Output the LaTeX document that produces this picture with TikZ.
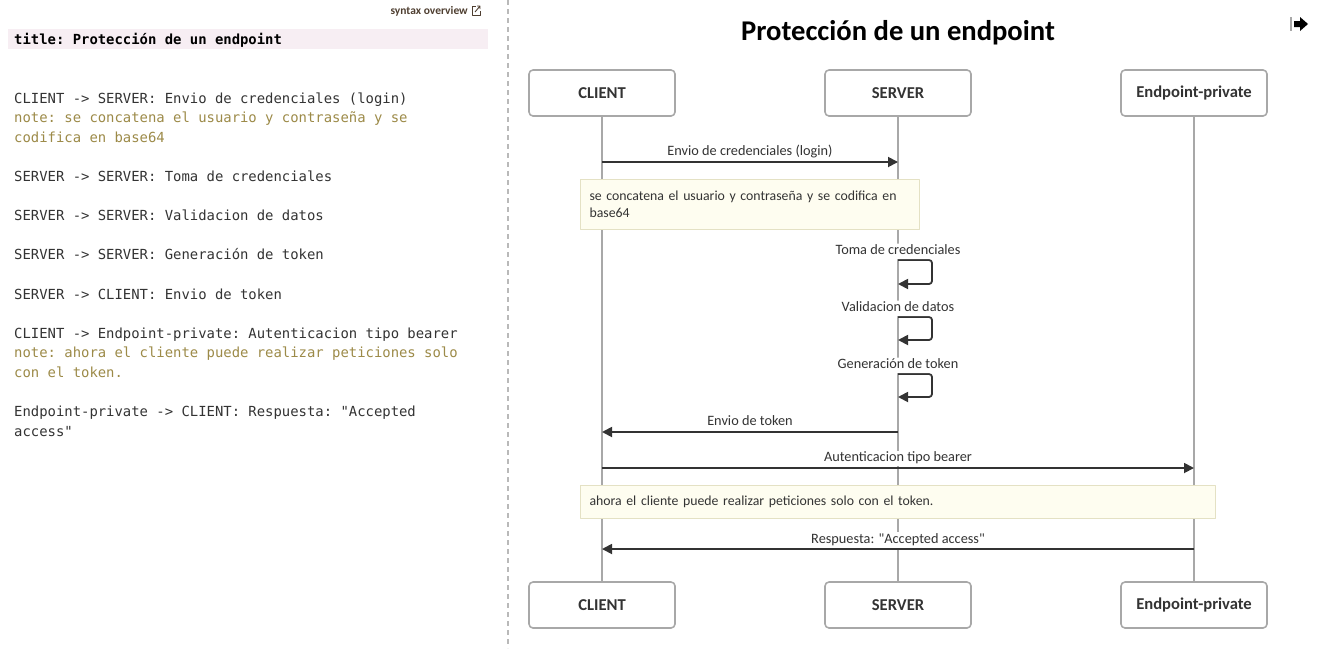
\documentclass[tikz,border=0pt]{standalone}
\usepackage{fontspec}
\setmainfont{Carlito}[Ligatures=TeXOff]
\setmonofont{DejaVu Sans Mono}
\usetikzlibrary{arrows.meta}
\definecolor{linea}{HTML}{333333}
\definecolor{gris}{HTML}{A8A8A8}
\definecolor{notafondo}{HTML}{FEFDF0}
\definecolor{notaborde}{HTML}{E4E1C4}
\definecolor{notacod}{HTML}{9C8A48}
\definecolor{titulofondo}{HTML}{F7EEF3}
\definecolor{enlace}{HTML}{4E3E30}
\begin{document}
\begin{tikzpicture}[x=1pt,y=-1pt,>={Triangle[length=10pt,width=10pt]}, line join=round,
  actor/.style={draw=gris,line width=1.6pt,rounded corners=4pt,minimum width=146pt,minimum height=46pt,
    font=\fontsize{16.6}{18}\selectfont\bfseries,text=linea},
  vida/.style={draw=gris,line width=1.6pt},
  msg/.style={draw=linea,line width=1.8pt,->},
  etiq/.style={fill=white,inner sep=1pt,text height=10pt,text depth=3.5pt,font=\fontsize{14.3}{16}\selectfont,text=linea},
  nota/.style={draw=notaborde,fill=notafondo,line width=1pt,anchor=north west,align=left,
    inner xsep=9pt,inner ysep=0pt,font=\fontsize{13.8}{17}\selectfont,text=linea},
  cod/.style={anchor=base west,inner sep=0pt,font=\fontsize{13.9}{17}\ttfamily,text=linea},
  codnota/.style={cod,text=notacod}]
  \useasboundingbox (0,0) rectangle (1327,648);
  % panel del codigo
  \node[anchor=base east,inner sep=0pt,font=\fontsize{11.5}{13}\selectfont\bfseries,text=enlace] (sint) at (468,14) {syntax overview};
  \draw[enlace,line width=0.9pt] (476,6) -- (472,6) -- (472,15) -- (480,15) -- (480,11);
  \draw[enlace,line width=0.9pt] (475,12) -- (480,6) (477,6) -- (480,6) -- (480,9);
  \fill[titulofondo] (8,29) rectangle (488,49);
  \node[cod,font=\fontsize{13.9}{17}\ttfamily\bfseries,text=black] (t0) at (14,44) {title: Protección de un endpoint};
  \node[cod] (c1) at (14,103) {CLIENT -> SERVER: Envio de credenciales (login)};
  \node[codnota] (c2) at (14,122) {note: se concatena el usuario y contraseña y se};
  \node[codnota] (c3) at (14,142) {codifica en base64};
  \node[cod] (c4) at (14,181) {SERVER -> SERVER: Toma de credenciales};
  \node[cod] (c5) at (14,220) {SERVER -> SERVER: Validacion de datos};
  \node[cod] (c6) at (14,259) {SERVER -> SERVER: Generación de token};
  \node[cod] (c7) at (14,299) {SERVER -> CLIENT: Envio de token};
  \node[cod] (c8) at (14,338) {CLIENT -> Endpoint-private: Autenticacion tipo bearer};
  \node[codnota] (c9) at (14,357) {note: ahora el cliente puede realizar peticiones solo};
  \node[codnota] (c10) at (14,377) {con el token.};
  \node[cod] (c11) at (14,416) {Endpoint-private -> CLIENT: Respuesta: "Accepted};
  \node[cod] (c12) at (14,436) {access"};
  \draw[gris!80,line width=1.2pt,dash pattern=on 5pt off 4pt] (508,0) -- (508,648);
  % diagrama
  \node[font=\fontsize{28.6}{32}\selectfont\bfseries,text=black] (titulo) at (898,33) {Protección de un endpoint};
  \draw[gris,line width=2pt] (1291,17) -- (1291,31);
  \fill[black] (1294,21) -- (1300,21) -- (1300,17) -- (1308,24) -- (1300,31) -- (1300,27) -- (1294,27) -- cycle;
  \node[actor] (ct) at (602,93) {CLIENT};
  \node[actor] (st) at (898,93) {SERVER};
  \node[actor] (et) at (1194,93) {Endpoint-private};
  \node[actor] (cb) at (602,605) {CLIENT};
  \node[actor] (sb) at (898,605) {SERVER};
  \node[actor] (eb) at (1194,605) {Endpoint-private};
  \draw[vida] (ct) -- (cb);
  \draw[vida] (st) -- (sb);
  \draw[vida] (et) -- (eb);
  \coordinate (m1) at (0,162);
  \coordinate (a1) at (0,260); \coordinate (b1) at (0,284);
  \coordinate (a2) at (0,317); \coordinate (b2) at (0,340);
  \coordinate (a3) at (0,374); \coordinate (b3) at (0,397);
  \coordinate (m2) at (0,432);
  \coordinate (m3) at (0,468);
  \coordinate (m4) at (0,549);
  \draw[msg] (ct |- m1) -- node[etiq,above=1pt] (e1) {Envio de credenciales (login)} (st |- m1);
  \node[nota,minimum width=339pt,minimum height=50pt,text width=321pt] (n1) at (580,179)
    {se concatena el usuario y contraseña y se codifica en\\base64};
  \draw[msg,rounded corners=3pt] (st |- a1) node[etiq,above=0pt] (e2) {Toma de credenciales} -- ++(34,0) |- (st |- b1);
  \draw[msg,rounded corners=3pt] (st |- a2) node[etiq,above=0pt] (e3) {Validacion de datos} -- ++(34,0) |- (st |- b2);
  \draw[msg,rounded corners=3pt] (st |- a3) node[etiq,above=0pt] (e4) {Generación de token} -- ++(34,0) |- (st |- b3);
  \draw[msg] (st |- m2) -- node[etiq,above=1.5pt] (e5) {Envio de token} (ct |- m2);
  \draw[msg] (ct |- m3) -- node[etiq,above=1pt] (e6) {Autenticacion tipo bearer} (et |- m3);
  \node[nota,minimum width=635pt,minimum height=33pt,text width=617pt] (n2) at (580,485)
    {ahora el cliente puede realizar peticiones solo con el token.};
  \draw[msg] (et |- m4) -- node[etiq,above=0.5pt] (e7) {Respuesta: "Accepted access"} (ct |- m4);
\end{tikzpicture}
\end{document}
